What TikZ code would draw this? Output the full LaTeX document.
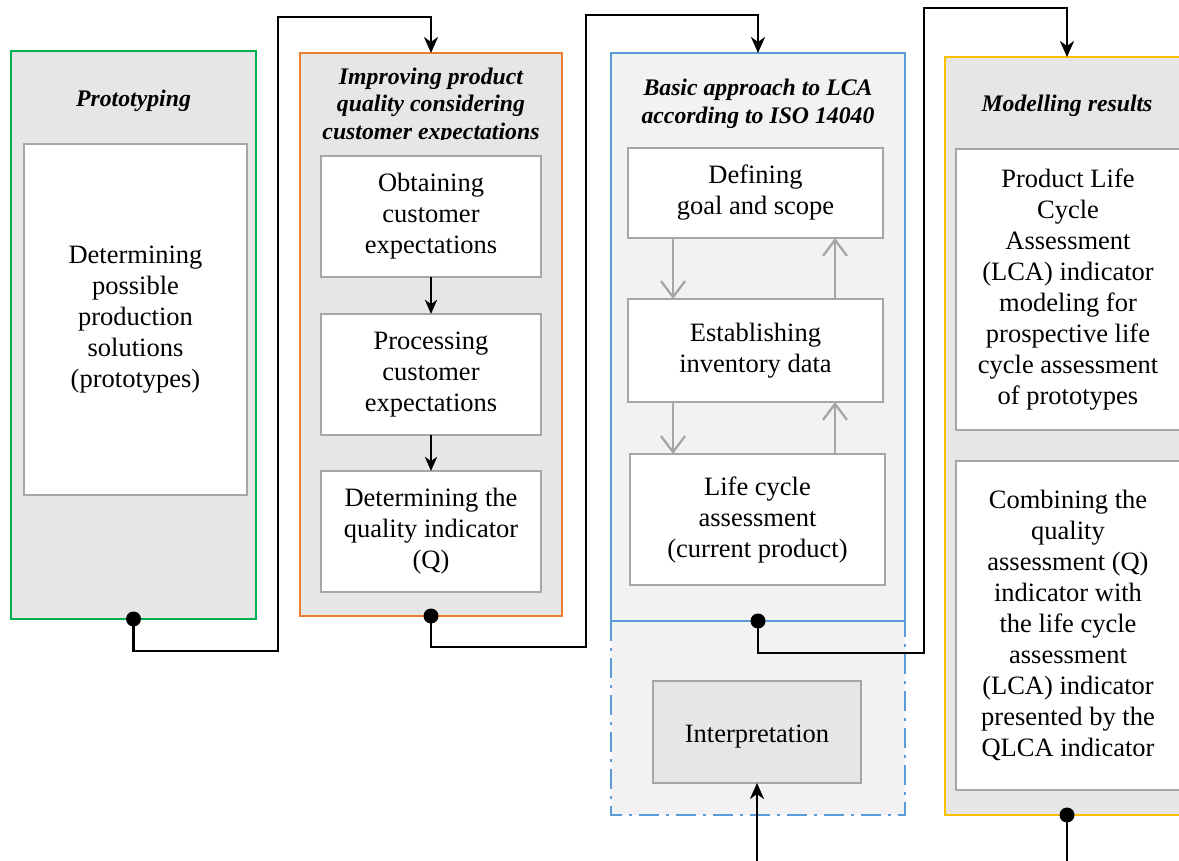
\documentclass[tikz,border=0pt]{standalone}
\usepackage{fontspec}
\setmainfont{Liberation Serif}
\usetikzlibrary{arrows.meta}
\definecolor{cgreen}{HTML}{00B050}
\definecolor{corange}{HTML}{ED7D31}
\definecolor{cblue}{HTML}{5B9BD5}
\definecolor{cyellow}{HTML}{FFC000}
\definecolor{fillA}{HTML}{E6E6E6}
\definecolor{fillB}{HTML}{F2F2F2}
\definecolor{innerline}{HTML}{A6A6A6}
\newcommand\mainfs{\fontsize{26.5}{31}\selectfont}
\newcommand\titlefs{\fontsize{23.75}{27.5}\selectfont\bfseries\itshape}
\begin{document}
\begin{tikzpicture}[x=1pt,y=-1pt,
  panel/.style={rectangle, line width=2.5pt, fill=fillA, inner sep=0pt, outer sep=0pt},
  inbox/.style={rectangle, draw=innerline, line width=2.5pt, fill=white, align=center, font=\mainfs, inner sep=0pt, outer sep=0pt},
  ptitle/.style={align=center, font=\titlefs, inner sep=0pt},
  conn/.style={line width=2.5pt, draw=black},
  arr/.style={conn, -{Stealth[length=16pt,width=14pt,inset=5pt]}},
  arrs/.style={conn, -{Stealth[length=14pt,width=12pt,inset=4pt]}},
  garr/.style={draw=innerline, line width=2.3pt, -{Straight Barb[length=16pt,width=24pt]}},
  dashdot/.style={draw=cblue, line width=2.5pt, dash pattern=on 20pt off 7pt on 3pt off 7pt}]
\useasboundingbox (0,0) rectangle (1179,861);
\clip (0,0) rectangle (1179,861);

% Column 1: Prototyping
\node[panel, draw=cgreen, minimum width=245pt, minimum height=568pt] (proto) at (133.5,335) {};
\node[ptitle] (protoT) at (133.5,101) {Prototyping};
\node[inbox, minimum width=223pt, minimum height=351pt] (protoI) at (135.5,319.5)
  {Determining\\possible\\production\\solutions\\(prototypes)};

% Column 2: Quality
\node[panel, draw=corange, minimum width=262pt, minimum height=563pt] (qual) at (431,334.5) {};
\begin{scope}
  \clip (300,53) rectangle (562,139.5);
  \node[ptitle] (qualT) at (431,106) {Improving product\\quality considering\\customer expectations};
\end{scope}
\node[inbox, minimum width=220pt, minimum height=121pt] (q1) at (431,216.5)
  {Obtaining\\customer\\expectations};
\node[inbox, minimum width=220pt, minimum height=121pt] (q2) at (431,374.5)
  {Processing\\customer\\expectations};
\node[inbox, minimum width=220pt, minimum height=121pt] (q3) at (431,531.5)
  {Determining the\\quality indicator\\(Q)};
\draw[arrs] (q1) -- (q2);
\draw[arrs] (q2) -- (q3);

% Column 3: LCA
\node[panel, fill=fillB, minimum width=294pt, minimum height=194pt] (interpreg) at (758,718) {};
\node[panel, draw=cblue, fill=fillB, minimum width=294pt, minimum height=568pt] (lca) at (758,337) {};
\draw[dashdot] (interpreg.north west) -- (interpreg.south west) -- (interpreg.south east) -- (interpreg.north east);
\node[ptitle] (lcaT) at (758,104) {Basic approach to LCA\\according to ISO 14040};
\node[inbox, minimum width=255pt, minimum height=90pt] (l1) at (755.5,193)
  {Defining\\goal and scope};
\node[inbox, minimum width=255pt, minimum height=103pt] (l2) at (755.5,350.5)
  {Establishing\\inventory data};
\node[inbox, minimum width=255pt, minimum height=131pt] (l3) at (757.5,519.5)
  {Life cycle\\assessment\\(current product)};
\node[inbox, fill=fillA, minimum width=208pt, minimum height=102pt] (interp) at (757,732)
  {\raisebox{-5pt}[\height][\depth]{Interpretation}};
\coordinate (gl) at (673,0);
\coordinate (gr) at (835,0);
\draw[garr] (l1.south -| gl) -- (l2.north -| gl);
\draw[garr] (l2.north -| gr) -- (l1.south -| gr);
\draw[garr] (l2.south -| gl) -- (l3.north -| gl);
\draw[garr] (l3.north -| gr) -- (l2.south -| gr);

% Column 4: Modelling results
\node[panel, draw=cyellow, minimum width=244pt, minimum height=758pt] (model) at (1067,436) {};
\node[ptitle] (mT) at (1067,106) {Modelling results};
\node[inbox, minimum width=224pt, minimum height=281pt] (m1) at (1068,289.5)
  {Product Life\\Cycle\\Assessment\\(LCA) indicator\\modeling for\\prospective life\\cycle assessment\\of prototypes};
\node[inbox, minimum width=224pt, minimum height=329pt] (m2) at (1068,625.5)
  {Combining the\\quality\\assessment (Q)\\indicator with\\the life cycle\\assessment\\(LCA) indicator\\presented by the\\QLCA indicator};

% Connectors
\coordinate (k1a) at (278,651);
\coordinate (k1b) at (278,17);
\draw[arr] (proto.south) |- (k1a) -- (k1b) -| (qual.north);
\fill (proto.south) circle (7.5pt);

\coordinate (k2a) at (586,647);
\coordinate (k2b) at (586,15);
\draw[arr] (qual.south) |- (k2a) -- (k2b) -| (lca.north);
\fill (qual.south) circle (7.5pt);

\coordinate (k3a) at (924,653);
\coordinate (k3b) at (924,8);
\draw[arr] (lca.south) |- (k3a) -- (k3b) -| (model.north);
\fill (lca.south) circle (7.5pt);

\coordinate (b1) at (757,872);
\draw[arr] (b1) -- (interp.south);

\coordinate (b2) at (1067,872);
\draw[conn] (model.south) -- (b2);
\fill (model.south) circle (7.5pt);
\end{tikzpicture}
\end{document}
